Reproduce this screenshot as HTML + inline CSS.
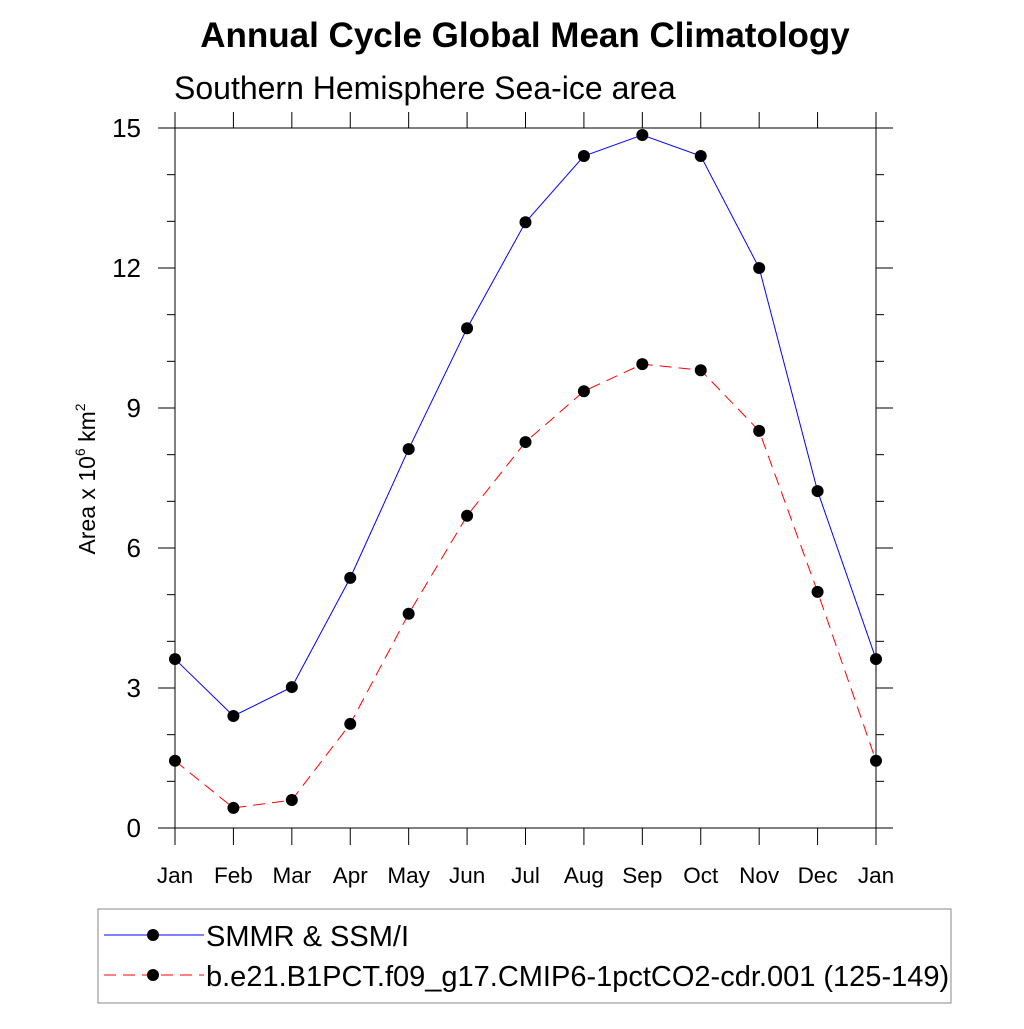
<!DOCTYPE html>
<html><head><meta charset="utf-8"><style>
body{margin:0;background:#fff}
svg text{font-family:"Liberation Sans",sans-serif}
</style></head><body>
<svg id="c" width="1024" height="1024" xmlns="http://www.w3.org/2000/svg">
<text x="525" y="47" text-anchor="middle" font-size="35" font-weight="bold">Annual Cycle Global Mean Climatology</text>
<text x="174" y="99" font-size="32">Southern Hemisphere Sea-ice area</text>
<text transform="translate(95,479) rotate(-90)" text-anchor="middle" font-size="23">Area x 10<tspan font-size="14" dy="-10">6</tspan><tspan dy="10"> km</tspan><tspan font-size="14" dy="-10">2</tspan></text>
<g id="axes"></g><g id="series"></g>
<rect x="98" y="909" width="853" height="94" fill="none" stroke="#888" stroke-width="1"/>
<g>
<line x1="104" y1="935" x2="204" y2="935" stroke="#0000ff" stroke-width="1"/>
<circle cx="153" cy="935" r="6" fill="#000"/>
<text x="206" y="946" font-size="29">SMMR &amp; SSM/I</text></g>
<g>
<line x1="104" y1="975" x2="204" y2="975" stroke="#ff0000" stroke-width="1" stroke-dasharray="12,7"/>
<circle cx="153" cy="975" r="6" fill="#000"/>
<text x="206" y="986" font-size="29">b.e21.B1PCT.f09_g17.CMIP6-1pctCO2-cdr.001 (125-149)</text></g>
</svg>
<script>
const months=["Jan","Feb","Mar","Apr","May","Jun","Jul","Aug","Sep","Oct","Nov","Dec","Jan"];
const obsValues=[3.62,2.40,3.02,5.36,8.12,10.71,12.98,14.40,14.85,14.40,12.0,7.22,3.62];
const modelValues=[1.44,0.43,0.60,2.23,4.59,6.69,8.27,9.36,9.94,9.81,8.51,5.06,1.44];
const yTicks=[0,3,6,9,12,15];
const NS="http://www.w3.org/2000/svg";
const L=175,R=876,T=128,B=828;
const xs=i=>L+(R-L)*i/12, ys=v=>B-(B-T)*v/15;
function mk(tag,at,parent){const e=document.createElementNS(NS,tag);for(const k in at)e.setAttribute(k,at[k]);parent.appendChild(e);return e;}
const ax=document.getElementById('axes');
const frame=mk('g',{},ax);


mk('line',{x1:158,y1:T,x2:893,y2:T,stroke:'#000'},frame);
mk('line',{x1:158,y1:B,x2:893,y2:B,stroke:'#000'},frame);
mk('line',{x1:L,y1:112,x2:L,y2:845,stroke:'#000'},frame);
mk('line',{x1:R,y1:112,x2:R,y2:845,stroke:'#000'},frame);
for(let v=0;v<=15;v++){const y=ys(v);const maj=v%3==0;
mk('line',{x1:L-(maj?17:8),y1:y,x2:L,y2:y,stroke:'#000'},frame);
mk('line',{x1:R,y1:y,x2:R+(maj?17:8),y2:y,stroke:'#000'},frame);}
yTicks.forEach(v=>{const t=mk('text',{x:141,y:ys(v)+9,'text-anchor':'end','font-size':26},ax);t.textContent=v;

});
months.forEach((m,i)=>{const x=xs(i);
mk('line',{x1:x,y1:112,x2:x,y2:T,stroke:'#000'},frame);
mk('line',{x1:x,y1:B,x2:x,y2:845,stroke:'#000'},frame);
const t=mk('text',{x:x,y:883,'text-anchor':'middle','font-size':22.5},ax);t.textContent=m;

});
const sg=document.getElementById('series');
function draw(vals,color,dash,name){const g=mk('g',{},sg);


const pts=vals.map((v,i)=>xs(i)+','+ys(v)).join(' ');
const pl=mk('polyline',{points:pts,fill:'none',stroke:color,'stroke-width':1},g);if(dash)pl.setAttribute('stroke-dasharray',dash);
vals.forEach((v,i)=>{const c=mk('circle',{cx:xs(i),cy:ys(v),r:6,fill:'#000'},g);

});}
draw(modelValues,'#ff0000','12,7','model-series');
draw(obsValues,'#0000ff',null,'obs-series');
</script>
</body></html>
